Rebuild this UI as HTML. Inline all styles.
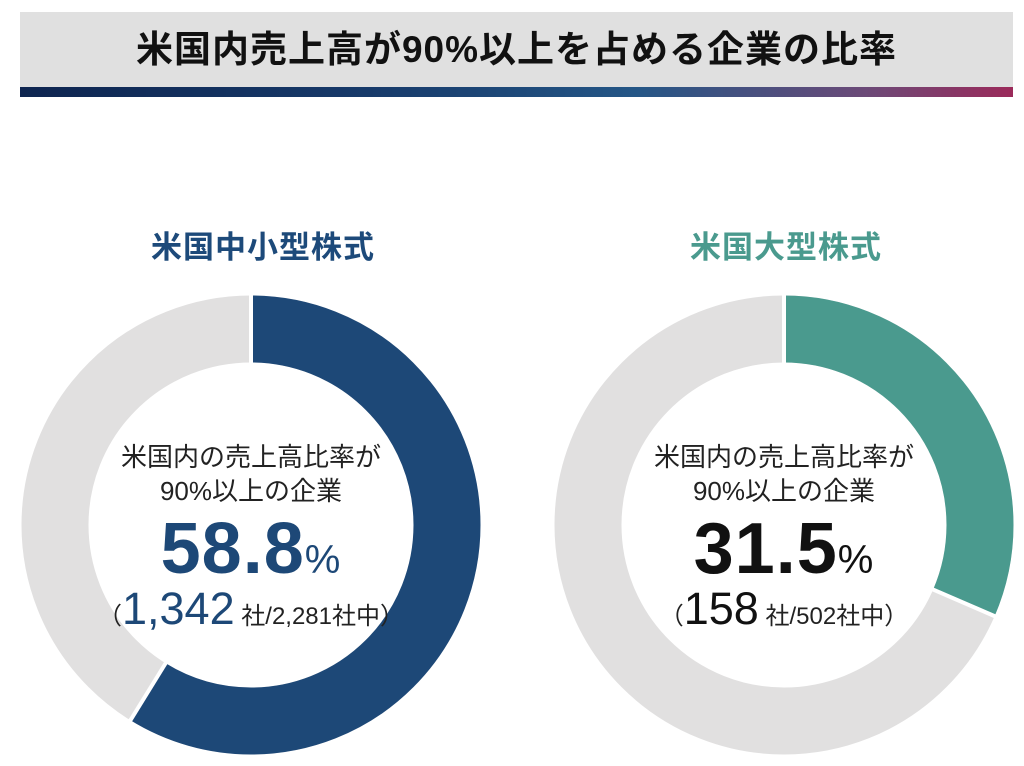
<!DOCTYPE html>
<html><head><meta charset="utf-8"><style>
body{margin:0;width:1024px;height:766px;background:#fff;overflow:hidden;font-family:"Liberation Sans","Noto Sans CJK JP",sans-serif;position:relative}
.hdr{position:absolute;left:20px;top:12px;width:993px;height:75px;background:#e0e0e0;text-align:center;line-height:75px;font-size:37px;font-weight:bold;color:#111;letter-spacing:1px}
.bar{position:absolute;left:20px;top:87px;width:993px;height:10px;background:linear-gradient(90deg,#0e2550 0%,#173a6a 35%,#245686 62%,#6b4a78 85%,#9b2a5a 100%)}
.t{position:absolute;text-align:center;width:400px;font-weight:bold;font-size:31px;letter-spacing:1px}
.c{position:absolute;text-align:center;width:360px;color:#222}
</style></head><body>
<div class="hdr">米国内売上高が90%以上を占める企業の比率</div>
<div class="bar"></div>
<div class="t" style="left:63px;top:222px;color:#1d4a7a">米国中小型株式</div>
<div class="t" style="left:586px;top:222px;color:#4a9a8e">米国大型株式</div>
<svg width="1024" height="766" style="position:absolute;left:0;top:0">
<g transform="translate(251,525)">
<circle r="196" fill="none" stroke="#e1e0e0" stroke-width="67"/>
<circle r="196" fill="none" stroke="#1d4877" stroke-width="67" stroke-dasharray="724.1 2000" transform="rotate(-90)"/>
<line x1="0" y1="-160" x2="0" y2="-232" stroke="#fff" stroke-width="4"/>
<line transform="rotate(211.7)" x1="0" y1="-160" x2="0" y2="-232" stroke="#fff" stroke-width="4"/>
</g>
<g transform="translate(784,525)">
<circle r="196" fill="none" stroke="#e1e0e0" stroke-width="67"/>
<circle r="196" fill="none" stroke="#4a9a8e" stroke-width="67" stroke-dasharray="387.9 2000" transform="rotate(-90)"/>
<line x1="0" y1="-160" x2="0" y2="-232" stroke="#fff" stroke-width="4"/>
<line transform="rotate(113.4)" x1="0" y1="-160" x2="0" y2="-232" stroke="#fff" stroke-width="4"/>
</g>
</svg>
<div class="c" style="left:71px;top:440px;font-size:26px;line-height:34px">米国内の売上高比率が<br>90%以上の企業</div>
<div class="c" style="left:71px;top:511px;font-size:72px;font-weight:bold;color:#1d4877;line-height:76px;letter-spacing:1px">58.8<span style="font-size:40px;font-weight:normal">%</span></div>
<div class="c" style="left:71px;top:585px;font-size:24px;line-height:48px">（<span style="font-size:45px;color:#1d4877">1,342</span> 社/2,281社中）</div>
<div class="c" style="left:604px;top:440px;font-size:26px;line-height:34px">米国内の売上高比率が<br>90%以上の企業</div>
<div class="c" style="left:604px;top:511px;font-size:72px;font-weight:bold;color:#111;line-height:76px;letter-spacing:1px">31.5<span style="font-size:40px;font-weight:normal">%</span></div>
<div class="c" style="left:604px;top:585px;font-size:24px;line-height:48px">（<span style="font-size:45px;color:#111">158</span> 社/502社中）</div>
</body></html>
